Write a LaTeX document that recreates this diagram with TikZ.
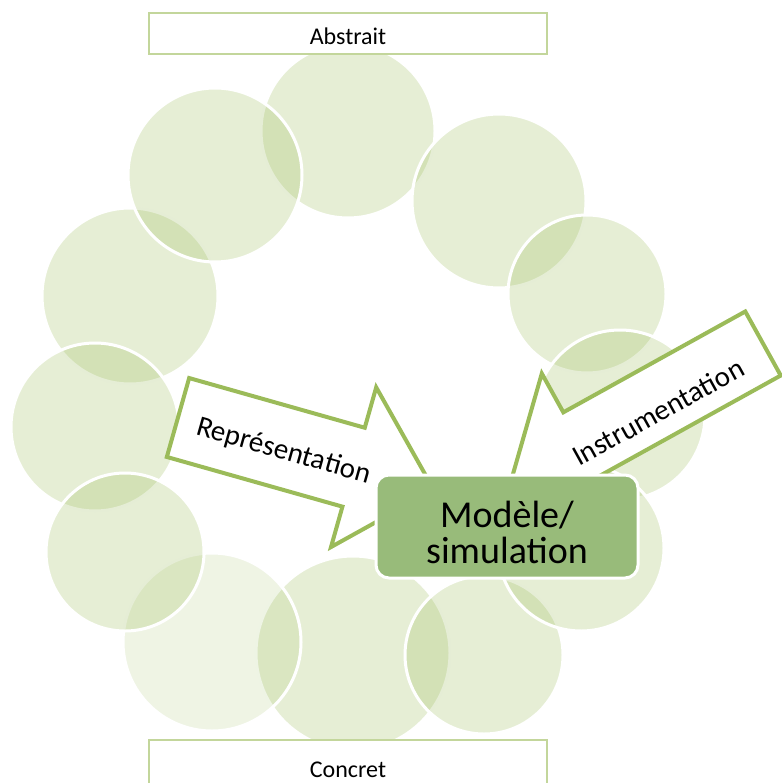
\documentclass[tikz,border=0pt]{standalone}
\usepackage{fontspec}
\setmainfont{Carlito}
\definecolor{ringgreen}{RGB}{155,187,89}
\definecolor{arrowgreen}{RGB}{155,187,89}
\definecolor{boxgreen}{RGB}{195,214,155}
\definecolor{modelgreen}{RGB}{152,187,122}
\begin{document}
\begin{tikzpicture}[x=1pt,y=-1pt,
  ring/.style={circle, inner sep=0pt, fill=ringgreen, fill opacity=0.25, draw=white, line width=3pt},
  ringlight/.style={ring, fill opacity=0.16},
  levelbox/.style={draw=boxgreen, line width=1.5pt, fill=white, minimum width=398pt, inner sep=0pt, font=\fontsize{24}{28}\selectfont},
  blockarrow/.style={draw=arrowgreen, line width=4pt, fill=white, line join=miter},
  arrowtext/.style={inner sep=0pt, font=\fontsize{29}{32}\selectfont},
  modelbox/.style={draw=white, line width=3pt, fill=modelgreen, rounded corners=13pt, minimum width=262pt, minimum height=103pt, inner sep=0pt, text height=37pt, text depth=36pt, font=\fontsize{38}{35}\selectfont}
]
\useasboundingbox (0,0) rectangle (781,783);
% ring of circles
\node[ring, minimum size=174pt] (c1) at (348,131) {};
\node[ring, minimum size=174pt] (c2) at (499,201) {};
\node[ring, minimum size=158pt] (c3) at (587,294) {};
\node[ring, minimum size=170pt] (c4) at (620,415) {};
\node[ring, minimum size=194pt] (c7) at (353,653) {};
\node[ring, minimum size=158pt] (c6) at (484,655) {};
\node[ring, minimum size=166pt] (c5) at (581,548) {};
\node[ringlight, minimum size=178pt] (c8) at (212,642) {};
\node[ring, minimum size=176pt] (c11) at (130,296) {};
\node[ring, minimum size=168pt] (c10) at (95,427) {};
\node[ring, minimum size=158pt] (c9) at (125,552) {};
\node[ring, minimum size=174pt] (c12) at (215,175) {};
% level boxes
\node[levelbox, minimum height=41pt, text height=23pt, text depth=0pt] (abstrait) at (348,33.5) {Abstrait};
\node[levelbox, minimum height=58pt, text height=16pt, text depth=0pt] (concret) at (348,769) {Concret};
% arrows
\begin{scope}[shift={(178,417.5)}, rotate=-15.8]
  \draw[blockarrow] (0,-41) -- (182.5,-41) -- (182.5,-83) -- (266,0) -- (182.5,83) -- (182.5,41) -- (0,41) -- cycle;
  \node[arrowtext, rotate=-15.8] (rep) at (111,4) {Représentation};
\end{scope}
\begin{scope}[shift={(763,343.5)}, rotate=209]
  \draw[blockarrow] (0,-36.6) -- (208,-36.6) -- (208,-81) -- (289,0) -- (208,81) -- (208,36.6) -- (0,36.6) -- cycle;
  \node[arrowtext, rotate=29] (ins) at (125,-9) {Instrumentation};
\end{scope}
% central box
\node[modelbox] (model) at (507,526.5) {\begin{tabular}[t]{@{}c@{}}Modèle/\\simulation\end{tabular}};
\end{tikzpicture}
\end{document}
